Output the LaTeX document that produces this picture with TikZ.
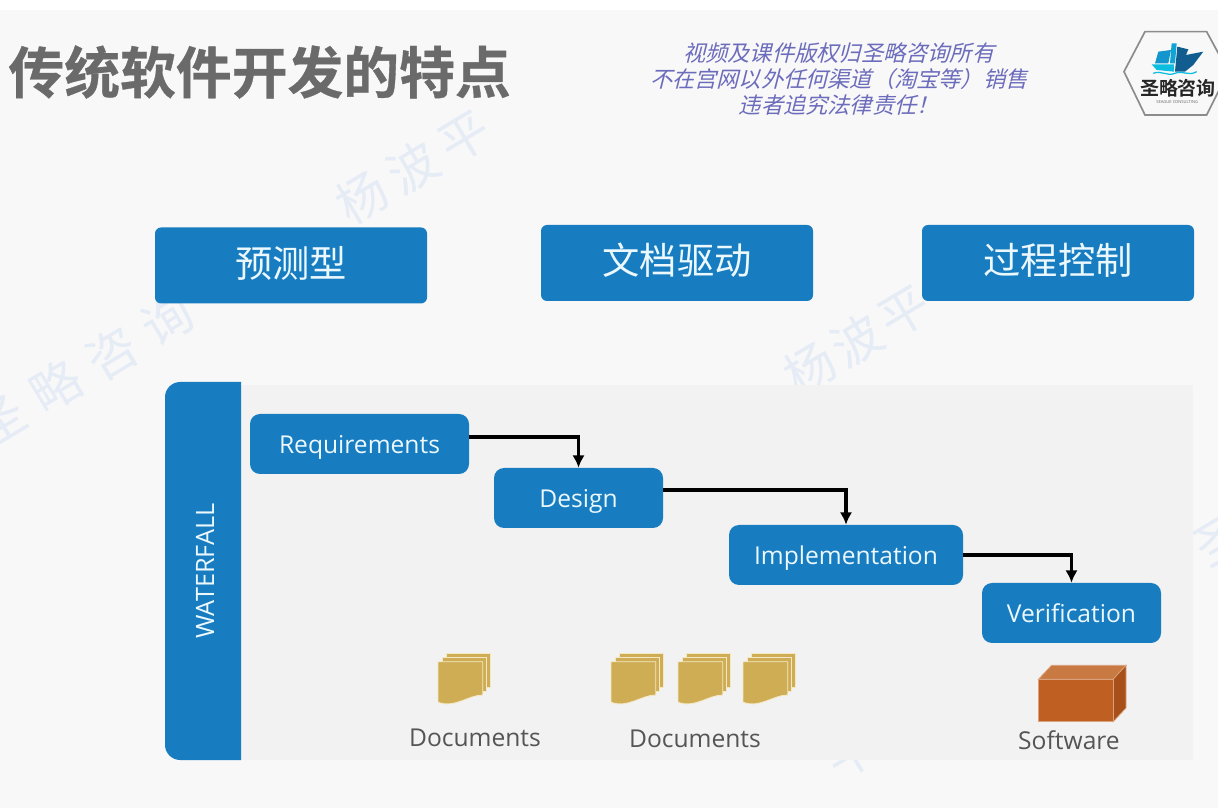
\documentclass[tikz,border=0pt]{standalone}
\usepackage{fontspec}
\setmainfont{Open Sans}
\newfontfamily\cjk{Noto Sans CJK SC}
\newfontfamily\cjkb[FakeBold=0.6]{Noto Sans CJK SC Bold}
\newfontfamily\cjklogo{Noto Sans CJK SC Bold}
\newfontfamily\cjkit[FakeSlant=0.25]{Noto Sans CJK SC}
\usetikzlibrary{arrows.meta,positioning}
\definecolor{blu}{HTML}{177CC0}
\definecolor{pagebg}{HTML}{F8F8F8}
\definecolor{panelbg}{HTML}{F2F2F2}
\definecolor{gry}{HTML}{6A6A6A}
\definecolor{nte}{HTML}{6C6CBC}
\definecolor{wmk}{HTML}{E6ECF5}
\definecolor{lbgry}{HTML}{555555}
\definecolor{sht}{HTML}{CFAD55}
\definecolor{shte}{HTML}{F4E8C4}
\definecolor{bxf}{HTML}{C05F22}
\definecolor{bxt}{HTML}{C97942}
\definecolor{bxs}{HTML}{A85019}
\definecolor{bxe}{HTML}{D9A27C}
\tikzset{
  hd/.style={rectangle,rounded corners=.15cm,fill=blu,text=white!92!cyan,minimum width=6.8cm,minimum height=1.9cm,inner sep=0pt,text height=16.4pt,text depth=0pt,font=\cjk\fontsize{26.5pt}{30pt}\selectfont},
  stg/.style={rectangle,rounded corners=.25cm,fill=blu,text=white!92!cyan,minimum height=1.5cm,inner sep=0pt,text height=14.2pt,text depth=0pt,font=\fontsize{17.5pt}{20pt}\selectfont},
  msg/.style={-{Latex[length=3.1mm,width=3.1mm]},line width=2.2pt,draw=black},
  lb/.style={text=lbgry,text height=14.2pt,text depth=0pt,font=\fontsize{17.5pt}{20pt}\selectfont},
  wm/.style={text=wmk,rotate=31,font=\cjk\fontsize{35.5pt}{40pt}\selectfont},
  sheet/.style={fill=sht,draw=shte,line width=.6pt},
  docs/.pic={
    % three sheets, the front one has the wavy foot
    \foreach \d in {0.2,0.1}{
      \filldraw[sheet] (\d,0.2+\d) rectangle (1.12+\d,1.03+\d);
    }
    \filldraw[sheet] (0,0.02) -- (0,1.03) -- (1.12,1.03) -- (1.12,0.2)
      .. controls (0.75,0.2) and (0.42,-0.14) .. (0,0.02) -- cycle;
  },
}
\begin{document}
\begin{tikzpicture}
\useasboundingbox (0,0) rectangle (30.45,20.2);
% ---------------- slide ground and watermark
\fill[pagebg] (0,0) rectangle (30.45,20.2);
\fill[white] (0,19.95) rectangle (30.45,20.2);
\node[wm] (wm1) at (2.1,10.95) {圣\hspace{.3em}略\hspace{.3em}咨\hspace{.3em}询};
\node[wm] (wm2) at (10.325,16.025) {杨\hspace{.2em}波\hspace{.2em}平};
\node[wm] (wm3) at (21.425,11.7) {杨\hspace{.1em}波\hspace{.1em}平};
\node[wm] (wm4) at (30.5,6.7) {圣};
\node[wm] (wm5) at (21.3,1.35) {平};
\fill[panelbg] (6.025,1.2) rectangle (29.825,10.575);
% ---------------- header
\node[text=gry,font=\cjkb\fontsize{39.7pt}{44pt}\selectfont] (title) at (6.49,18.4) {传统软件开发的特点};
\node[text=nte,align=center,font=\cjkit\fontsize{15.8pt}{18.5pt}\selectfont] (note) at (20.97,18.225)
  {视频及课件版权归圣略咨询所有\\不在宫网以外任何渠道（淘宝等）销售\\违者追究法律责任！};
% ---------------- logo, in units of a third of a pixel
\begin{scope}[shift={(27.5,19.7)},x=0.00833cm,y=-0.00833cm]
  \draw[draw=black!45,line width=1.2pt] (72,155) -- (135,35) -- (320,35) -- (385,155) -- (320,285) -- (135,285) -- cycle;
  \fill[blu!70!cyan] (215,70) -- (230,70) -- (225,130) -- (210,130) -- cycle;
  \fill[blu!80!cyan] (175,95) -- (213,90) -- (205,130) -- (165,130) -- cycle;
  \fill[blu!75!black] (232,80) -- (265,88) -- (258,105) -- (310,95) -- (280,135) -- (255,155) -- (225,155) -- cycle;
  \fill[blu!50!cyan] (155,133) -- (222,133) -- (222,155) -- (170,150) -- cycle;
  \draw[blu!50!cyan,line width=.9pt] (160,160) .. controls (185,150) and (200,170) .. (225,160) .. controls (250,150) and (265,170) .. (290,155);
  \node[font=\cjklogo\fontsize{13.5pt}{15pt}\selectfont,text=black!85] (logotx) at (234,205) {圣略咨询};
  \node[font=\fontsize{2.9pt}{3pt}\selectfont,text=black!60] (logosub) at (232,245) {SEAGUE CONSULTING};
\end{scope}
% ---------------- three traits
\node[hd] (tr1) at (7.275,13.5625) {预测型};
\node[hd] (tr2) at (16.925,13.625) {文档驱动};
\node[hd] (tr3) at (26.45,13.625) {过程控制};
% ---------------- waterfall
\fill[blu] (6.025,10.65) [rounded corners=.38cm] -- (4.125,10.65) -- (4.125,1.2) [sharp corners] -- (6.025,1.2) -- cycle;
\node[rotate=90,text=white!92!cyan,font=\fontsize{18pt}{20pt}\selectfont] (bar) at (5.125,5.925) {WATERFALL};
\node[stg,minimum width=5.475cm] (req) at (8.9875,9.1) {Requirements};
\node[stg,minimum width=4.225cm] (dsg) at (14.4625,7.75) {Design};
\node[stg,minimum width=5.85cm] (imp) at (21.15,6.325) {Implementation};
\node[stg,minimum width=4.475cm] (ver) at (26.7875,4.875) {Verification};
\draw[msg] ([yshift=.175cm]req.east) -| (dsg.north);
\draw[msg] ([yshift=.2cm]dsg.east) -| (imp.north);
\draw[msg] (imp.east) -| (ver.north);
% ---------------- what each stage leaves behind
\pic at (10.95,2.625) {docs};
\pic at (15.275,2.625) {docs};
\pic at (16.95,2.625) {docs};
\pic at (18.575,2.625) {docs};
\node[lb] (d1) at (11.875,1.775) {Documents};
\node[lb] (d2) at (17.375,1.75) {Documents};
\node[lb] (sw) at (26.725,1.7) {Software};
\filldraw[fill=bxt,draw=bxe,line width=.5pt] (25.96,3.218) -- (26.29,3.568) -- (28.15,3.568) -- (27.83,3.218) -- cycle;
\filldraw[fill=bxs,draw=bxe,line width=.5pt] (27.83,2.158) -- (28.15,2.5) -- (28.15,3.568) -- (27.83,3.218) -- cycle;
\filldraw[fill=bxf,draw=bxe,line width=.5pt] (25.96,2.158) rectangle (27.83,3.218);
\end{tikzpicture}
\end{document}
